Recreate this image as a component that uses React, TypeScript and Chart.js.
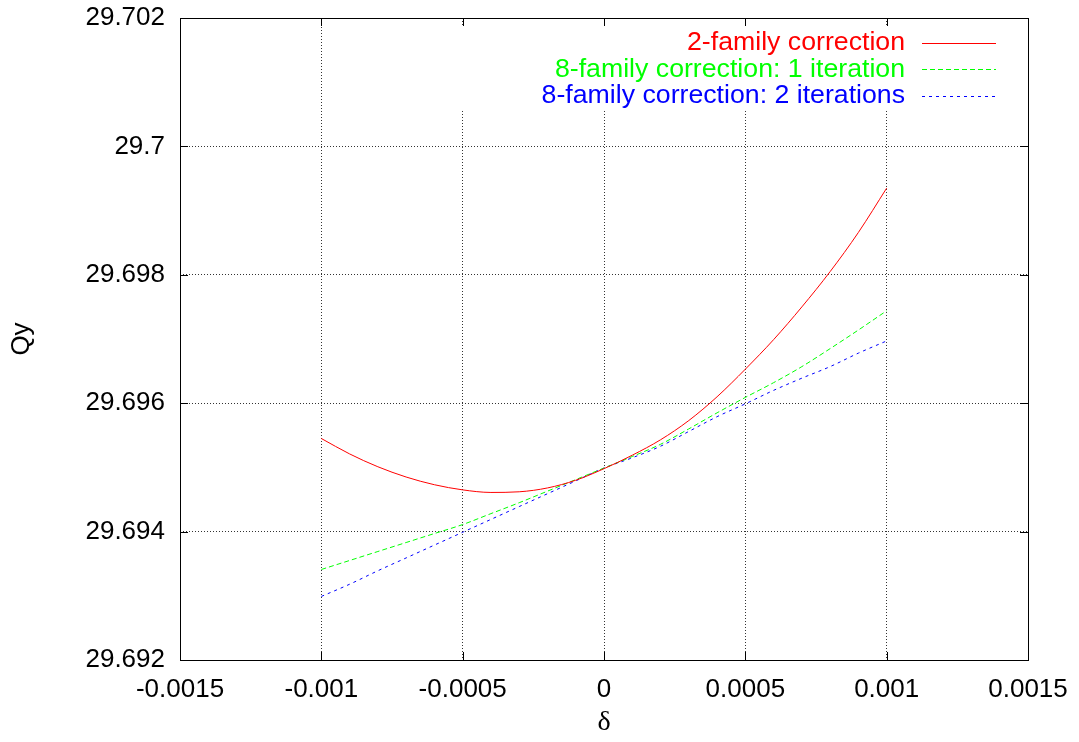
import React, { useEffect, useRef } from "react";
import { Chart, registerables } from "chart.js";

Chart.register(...registerables);

const deltaValues = [
  -0.001, -0.0009, -0.0008, -0.0007, -0.0006, -0.0005, -0.0004, -0.0003, -0.0002, -0.0001,
  0, 0.0001, 0.0002, 0.0003, 0.0004, 0.0005, 0.0006, 0.0007, 0.0008, 0.0009, 0.001,
];

const twoFamily = [
  29.69545, 29.69521, 29.69501, 29.69485, 29.69473, 29.69465, 29.69461, 29.69462, 29.69468, 29.6948,
  29.69498, 29.69519, 29.69543, 29.69573, 29.6961, 29.69653, 29.69699, 29.6975, 29.69805, 29.69866, 29.69935,
];

const eightFamily1 = [
  29.69341, 29.69355, 29.69369, 29.69383, 29.69397, 29.69411, 29.69428, 29.69445, 29.69463, 29.69481,
  29.69499, 29.69517, 29.69536, 29.6956, 29.69585, 29.69609, 29.69632, 29.69657, 29.69685, 29.69714, 29.69744,
];

const eightFamily2 = [
  29.69299, 29.69318, 29.69339, 29.69359, 29.69379, 29.69399, 29.69419, 29.69439, 29.69459, 29.69479,
  29.69499, 29.69515, 29.69533, 29.69556, 29.69579, 29.69599, 29.6962, 29.69639, 29.69657, 29.69678, 29.69697,
];

const seriesLabels = [
  "2-family correction",
  "8-family correction: 1 iteration",
  "8-family correction: 2 iterations",
];

const xTicks = [-0.0015, -0.001, -0.0005, 0, 0.0005, 0.001, 0.0015];
const yTicks = [29.692, 29.694, 29.696, 29.698, 29.7, 29.702];

const FONT = "'Liberation Sans', Arial, Helvetica, sans-serif";

const fmt = (v: number) => String(parseFloat(Number(v).toFixed(5)));

const gnuplotPlugin = {
  id: "gnuplotDecor",
  beforeDatasetsDraw(chart: any) {
    const { ctx, chartArea } = chart;
    ctx.save();
    ctx.fillStyle = "#ffffff";
    ctx.fillRect(chartArea.left + 275, chartArea.top + 9, chartArea.right - 13 - (chartArea.left + 275), 83);
    ctx.restore();
  },
  afterDraw(chart: any) {
    const { ctx, chartArea, scales } = chart;
    const { left, right, top, bottom } = chartArea;
    ctx.save();
    ctx.strokeStyle = "#000000";
    ctx.lineWidth = 1;
    ctx.setLineDash([]);
    ctx.strokeRect(Math.round(left) + 0.5, Math.round(top) + 0.5, Math.round(right - left), Math.round(bottom - top));
    const tl = 8;
    ctx.beginPath();
    xTicks.forEach((v) => {
      const px = Math.round(scales.x.getPixelForValue(v)) + 0.5;
      ctx.moveTo(px, bottom);
      ctx.lineTo(px, bottom - tl);
      ctx.moveTo(px, top);
      ctx.lineTo(px, top + tl);
    });
    yTicks.forEach((v) => {
      const py = Math.round(scales.y.getPixelForValue(v)) + 0.5;
      ctx.moveTo(left, py);
      ctx.lineTo(left + tl, py);
      ctx.moveTo(right, py);
      ctx.lineTo(right - tl, py);
    });
    ctx.stroke();

    // legend (gnuplot style: text right-aligned, sample on the right)
    ctx.font = `26.7px ${FONT}`;
    ctx.textAlign = "right";
    ctx.textBaseline = "middle";
    chart.data.datasets.forEach((ds: any, i: number) => {
      const y = top + 25 + i * 26.5;
      ctx.fillStyle = ds.borderColor;
      ctx.fillText(ds.label, right - 123, y);
      ctx.strokeStyle = ds.borderColor;
      ctx.lineWidth = 1;
      ctx.setLineDash(ds.borderDash || []);
      ctx.beginPath();
      ctx.moveTo(right - 106, Math.floor(y) + 0.5);
      ctx.lineTo(right - 32, Math.floor(y) + 0.5);
      ctx.stroke();
    });
    ctx.restore();
  },
};

export default function App() {
  const canvasRef = useRef<HTMLCanvasElement | null>(null);

  useEffect(() => {
    if (!canvasRef.current) return;
    const mk = (vals: number[]) => deltaValues.map((x, i) => ({ x, y: vals[i] }));
    const chart = new Chart(canvasRef.current, {
      type: "line",
      data: {
        datasets: [
          {
            label: seriesLabels[0],
            data: mk(twoFamily),
            borderColor: "#ff0000",
            borderWidth: 1,
            pointRadius: 0,
            cubicInterpolationMode: "monotone",
            fill: false,
          },
          {
            label: seriesLabels[1],
            data: mk(eightFamily1),
            borderColor: "#00ff00",
            borderWidth: 1,
            borderDash: [5, 3],
            pointRadius: 0,
            cubicInterpolationMode: "monotone",
            fill: false,
          },
          {
            label: seriesLabels[2],
            data: mk(eightFamily2),
            borderColor: "#0000ff",
            borderWidth: 1,
            borderDash: [3, 4],
            pointRadius: 0,
            cubicInterpolationMode: "monotone",
            fill: false,
          },
        ],
      },
      options: {
        animation: false,
        responsive: true,
        maintainAspectRatio: false,
        layout: { padding: { left: 0, top: 18, right: 51, bottom: 0 } },
        plugins: { legend: { display: false }, tooltip: { enabled: false } },
        scales: {
          x: {
            type: "linear",
            min: -0.0015,
            max: 0.0015,
            afterFit: (s: any) => {
              s.height = 82;
              s.paddingLeft = 0;
              s.paddingRight = 0;
            },
            afterBuildTicks: (s: any) => {
              s.ticks = xTicks.map((v) => ({ value: v }));
            },
            ticks: {
              color: "#000",
              font: { family: FONT, size: 26 },
              padding: 14,
              maxRotation: 0,
              autoSkip: false,
              callback: (v: any) => fmt(v),
            },
            grid: { color: "rgba(0,0,0,0.8)", lineWidth: 1, drawTicks: false },
            border: { display: false, dash: [1, 2] },
            title: {
              display: true,
              text: "δ",
              color: "#000",
              font: { family: "'Liberation Serif', 'DejaVu Serif', serif", size: 28 },
              padding: { top: 0, bottom: 3 },
            },
          },
          y: {
            type: "linear",
            min: 29.692,
            max: 29.702,
            afterFit: (s: any) => {
              s.width = 180;
              s.paddingTop = 0;
              s.paddingBottom = 0;
            },
            afterBuildTicks: (s: any) => {
              s.ticks = yTicks.map((v) => ({ value: v }));
            },
            ticks: {
              color: "#000",
              font: { family: FONT, size: 26 },
              padding: 15,
              autoSkip: false,
              callback: (v: any) => fmt(v),
            },
            grid: { color: "rgba(0,0,0,0.8)", lineWidth: 1, drawTicks: false },
            border: { display: false, dash: [1, 2] },
            title: {
              display: true,
              text: "Qy",
              color: "#000",
              font: { family: FONT, size: 26 },
              padding: { top: 6, bottom: 0 },
            },
          },
        },
      },
      plugins: [gnuplotPlugin],
    });
    return () => chart.destroy();
  }, []);

  return (
    <div style={{ position: "absolute", left: 0, top: 0, width: 1079, height: 742, background: "#fff" }}>
      <canvas ref={canvasRef} />
    </div>
  );
}
